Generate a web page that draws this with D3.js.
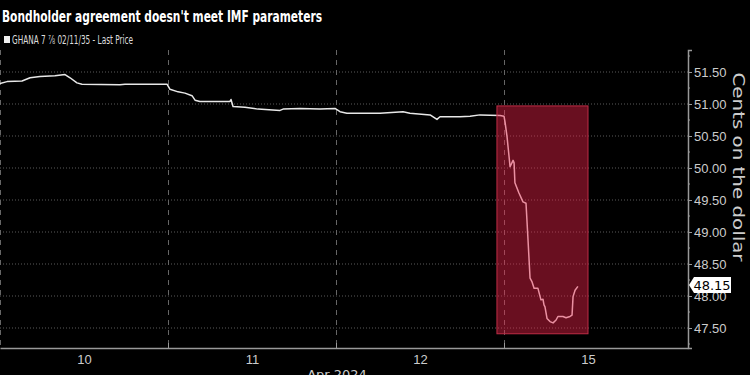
<!DOCTYPE html>
<html lang="en">

<head>
    <meta charset="UTF-8">
    <meta name="viewport" content="width=device-width, initial-scale=1.0">
    <script src="https://cdn.jsdelivr.net/npm/d3@7"></script>
    <title>Ghana bond</title>
    <style>
        body { margin: 0; background: #000; }
        svg { display: block; font-family: "DejaVu Sans", Verdana, sans-serif; }
    </style>
</head>

<body>
    <svg id="main_svg" width="750" height="375"></svg>
    <script>
        // trading days since Apr 10 open (weekend skipped)
        var times = [0, 0.042, 0.131, 0.179, 0.238, 0.327, 0.387, 0.417, 0.458, 0.488, 0.714, 0.744, 0.994,
            1.012, 1.060, 1.101, 1.143, 1.161, 1.190, 1.369, 1.375, 1.387, 1.458, 1.536, 1.667, 1.685, 1.786, 1.905, 1.994,
            2.024, 2.065, 2.262, 2.399, 2.440, 2.560, 2.601, 2.619, 2.738, 2.798, 2.857, 2.976,
            3.000, 3.006, 3.018, 3.030, 3.036, 3.054, 3.060, 3.065, 3.089, 3.113, 3.131, 3.143, 3.155, 3.167, 3.179,
            3.202, 3.220, 3.232, 3.238, 3.244, 3.256, 3.274, 3.292, 3.310, 3.321, 3.351, 3.369, 3.393, 3.405, 3.411,
            3.423, 3.440];
        var prices = [51.32, 51.35, 51.36, 51.41, 51.43, 51.44, 51.46, 51.41, 51.33, 51.31, 51.30, 51.31, 51.31,
            51.23, 51.19, 51.17, 51.13, 51.06, 51.04, 51.04, 51.07, 50.96, 50.95, 50.92, 50.90, 50.92, 50.93, 50.92, 50.93,
            50.88, 50.855, 50.855, 50.88, 50.855, 50.83, 50.76, 50.80, 50.80, 50.81, 50.83, 50.82,
            50.81, 50.72, 50.49, 50.18, 50.02, 50.12, 50.08, 49.77, 49.61, 49.47, 49.45, 48.875, 48.28, 48.22, 48.12,
            48.12, 47.94, 47.95, 47.86, 47.83, 47.65, 47.60, 47.58, 47.625, 47.68, 47.68, 47.66, 47.68, 47.70, 47.99,
            48.09, 48.15];
        var dayLabels = ["10", "11", "12", "15"];
        var yTicks = [47.5, 48, 48.5, 49, 49.5, 50, 50.5, 51, 51.5];
        var highlightTimes = [2.958, 3.5];
        var highlightPrices = [47.41, 50.97];
        var lastPrice = 48.15;

        var svg = d3.select("#main_svg");
        var pLeft = 0, pRight = 688, pTop = 50, pBottom = 348;

        var x = d3.scaleLinear().domain([0, 688 / 168]).range([pLeft, pRight]);
        var y = d3.scaleLinear().domain([47.1875, 51.84375]).range([pBottom, pTop]);

        // 标题
        svg.append("text")
            .attr("x", 2).attr("y", 22)
            .attr("fill", "#fff")
            .attr("font-size", "15px")
            .attr("font-weight", "bold")
            .attr("textLength", 320)
            .attr("lengthAdjust", "spacingAndGlyphs")
            .text("Bondholder agreement doesn't meet IMF parameters");

        // legend
        svg.append("rect")
            .attr("x", 4).attr("y", 36).attr("width", 6).attr("height", 7)
            .attr("fill", "#eee");
        svg.append("text")
            .attr("x", 12).attr("y", 44)
            .attr("fill", "#ddd")
            .attr("font-size", "12px")
            .attr("textLength", 121)
            .attr("lengthAdjust", "spacingAndGlyphs")
            .text("GHANA 7 \u215E 02/11/35 - Last Price");

        // horizontal grid
        svg.append("g")
            .selectAll("line")
            .data(yTicks)
            .enter()
            .append("line")
            .attr("x1", pLeft).attr("x2", pRight)
            .attr("y1", function (d) { return y(d); })
            .attr("y2", function (d) { return y(d); })
            .attr("stroke", "#5a5a5a")
            .attr("stroke-width", 1)
            .attr("stroke-dasharray", "1,2");

        // vertical grid at day boundaries
        svg.append("g")
            .selectAll("line")
            .data(d3.range(dayLabels.length))
            .enter()
            .append("line")
            .attr("x1", function (d) { return x(d) + 0.5; })
            .attr("x2", function (d) { return x(d) + 0.5; })
            .attr("y1", pTop).attr("y2", pBottom)
            .attr("stroke", "#666")
            .attr("stroke-width", 1)
            .attr("stroke-dasharray", "5,5");

        // price line
        var line = d3.line()
            .x(function (d, i) { return x(times[i]); })
            .y(function (d) { return y(d); });

        svg.append("path")
            .datum(prices)
            .attr("d", line)
            .attr("fill", "none")
            .attr("stroke", "#e8e8e8")
            .attr("stroke-width", 1.5)
            .attr("stroke-linejoin", "round");

        // 红色高亮框
        svg.append("rect")
            .attr("x", x(highlightTimes[0]))
            .attr("y", y(highlightPrices[1]))
            .attr("width", x(highlightTimes[1]) - x(highlightTimes[0]))
            .attr("height", y(highlightPrices[0]) - y(highlightPrices[1]))
            .attr("fill", "rgb(239,34,73)")
            .attr("fill-opacity", 0.44)
            .attr("stroke", "rgb(190,45,70)")
            .attr("stroke-width", 1);

        // x axis
        var xAxis = d3.axisBottom(x)
            .tickValues(d3.range(dayLabels.length).map(function (d) { return d + 0.5; }))
            .tickFormat(function (d, i) { return dayLabels[i]; })
            .tickSize(0)
            .tickPadding(7);

        var gx = svg.append("g")
            .attr("transform", "translate(0," + pBottom + ")")
            .call(xAxis);
        gx.select(".domain").attr("stroke", "#999").attr("stroke-width", 1.5);
        gx.selectAll("text").attr("fill", "#ccc").attr("font-size", "13px").attr("font-family", null);

        // small upward ticks at day boundaries
        gx.selectAll(".bound")
            .data(d3.range(1, dayLabels.length))
            .enter()
            .append("line")
            .attr("x1", function (d) { return x(d) + 0.5; })
            .attr("x2", function (d) { return x(d) + 0.5; })
            .attr("y1", 0).attr("y2", -5)
            .attr("stroke", "#999");

        svg.append("text")
            .attr("x", 337).attr("y", 379)
            .attr("text-anchor", "middle")
            .attr("fill", "#ccc")
            .attr("font-size", "13px")
            .text("Apr 2024");

        // y axis on the right
        var yAxis = d3.axisRight(y)
            .tickValues(yTicks)
            .tickFormat(d3.format(".2f"))
            .tickSize(4)
            .tickPadding(2);

        var gy = svg.append("g")
            .attr("transform", "translate(" + pRight + ",0)")
            .call(yAxis);
        gy.select(".domain").attr("stroke", "#999").attr("stroke-width", 1.5);
        gy.selectAll(".tick line").attr("stroke", "#999");
        gy.selectAll("text").attr("fill", "#ccc").attr("font-size", "13px").attr("font-family", null);

        // minor ticks
        gy.selectAll(".minor")
            .data(d3.range(47.25, 51.8, 0.5))
            .enter()
            .append("line")
            .attr("x1", 0).attr("x2", 2)
            .attr("y1", function (d) { return y(d); })
            .attr("y2", function (d) { return y(d); })
            .attr("stroke", "#999");

        svg.append("text")
            .attr("transform", "translate(733,167) rotate(90)")
            .attr("text-anchor", "middle")
            .attr("fill", "#ccc")
            .attr("font-size", "16px")
            .attr("textLength", 189)
            .attr("lengthAdjust", "spacingAndGlyphs")
            .text("Cents on the dollar");

        // last price tag
        var ly = y(lastPrice) - 1.5;
        svg.append("path")
            .attr("d", "M" + (pRight + 1) + "," + ly + "L" + (pRight + 6) + "," + (ly - 8) + "H731V" + (ly + 8) + "H" + (pRight + 6) + "Z")
            .attr("fill", "#fff");
        svg.append("text")
            .attr("x", 712).attr("y", ly + 5)
            .attr("text-anchor", "middle")
            .attr("fill", "#000")
            .attr("font-size", "13px")
            .text(d3.format(".2f")(lastPrice));
    </script>
</body>

</html>
